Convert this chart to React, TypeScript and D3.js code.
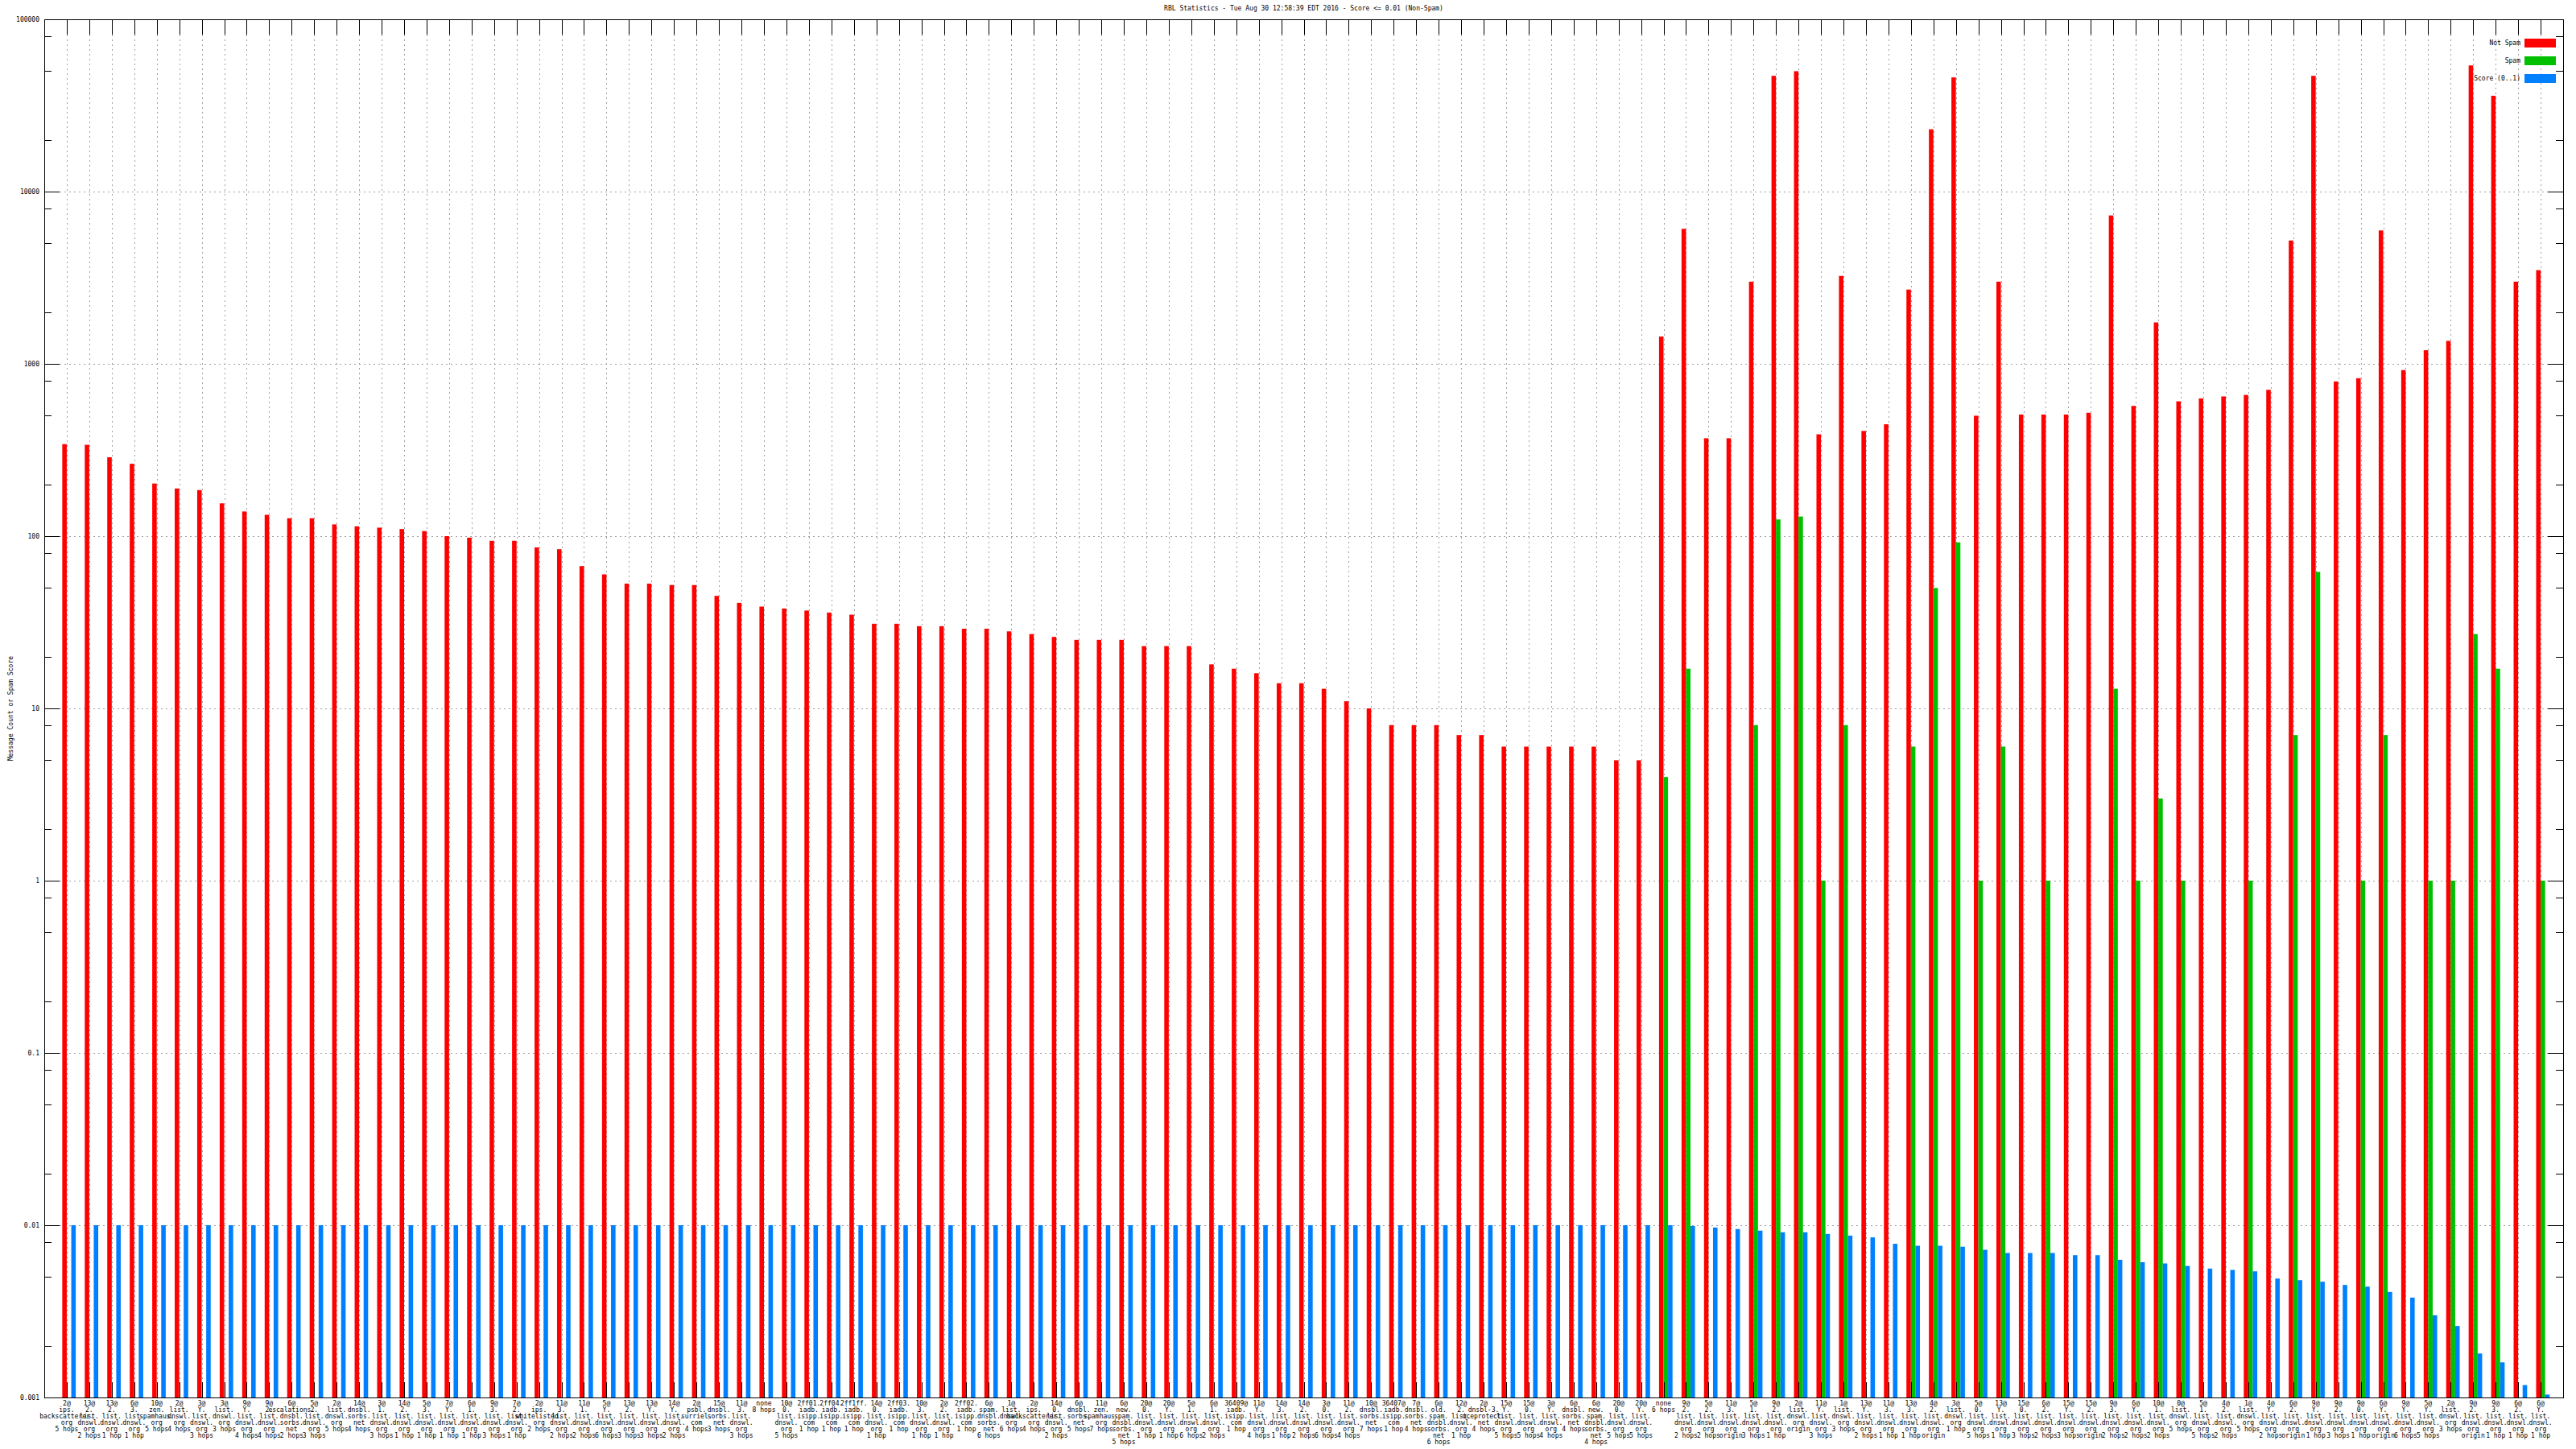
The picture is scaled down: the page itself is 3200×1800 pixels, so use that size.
import React from "react";
import * as d3 from "d3";

const title = "RBL Statistics - Tue Aug 30 12:58:39 EDT 2016 - Score <= 0.01 (Non-Spam)";
const yAxisLabel = "Message Count or Spam Score";
const seriesNames = ["Not Spam", "Spam", "Score (0..1)"];
const seriesColors = ["#ff0000", "#00c000", "#0080ff"];
const yTickValues = [0.001, 0.01, 0.1, 1, 10, 100, 1000, 10000, 100000];
const yTickLabels = ["0.001", "0.01", "0.1", "1", "10", "100", "1000", "10000", "100000"];

const categories: string[] = [
  "2@\nips.\nbackscatterer.\norg\n5 hops",
  "13@\n2.\nlist.\ndnswl.\norg\n2 hops",
  "13@\n2.\nlist.\ndnswl.\norg\n1 hop",
  "6@\n3.\nlist.\ndnswl.\norg\n1 hop",
  "10@\nzen.\nspamhaus.\norg\n5 hops",
  "2@\nlist.\ndnswl.\norg\n4 hops",
  "3@\nY.\nlist.\ndnswl.\norg\n3 hops",
  "3@\nlist.\ndnswl.\norg\n3 hops",
  "9@\nY.\nlist.\ndnswl.\norg\n4 hops",
  "9@\n2.\nlist.\ndnswl.\norg\n4 hops",
  "6@\nescalations.\ndnsbl.\nsorbs.\nnet\n2 hops",
  "5@\n2.\nlist.\ndnswl.\norg\n3 hops",
  "2@\nlist.\ndnswl.\norg\n5 hops",
  "14@\ndnsbl.\nsorbs.\nnet\n4 hops",
  "3@\n1.\nlist.\ndnswl.\norg\n3 hops",
  "14@\n2.\nlist.\ndnswl.\norg\n1 hop",
  "5@\n3.\nlist.\ndnswl.\norg\n1 hop",
  "7@\nY.\nlist.\ndnswl.\norg\n1 hop",
  "6@\n1.\nlist.\ndnswl.\norg\n1 hop",
  "9@\n3.\nlist.\ndnswl.\norg\n3 hops",
  "7@\n2.\nlist.\ndnswl.\norg\n1 hop",
  "2@\nips.\nwhitelisted.\norg\n2 hops",
  "11@\n3.\nlist.\ndnswl.\norg\n2 hops",
  "11@\n1.\nlist.\ndnswl.\norg\n2 hops",
  "5@\nY.\nlist.\ndnswl.\norg\n6 hops",
  "13@\n2.\nlist.\ndnswl.\norg\n3 hops",
  "13@\nY.\nlist.\ndnswl.\norg\n3 hops",
  "14@\nY.\nlist.\ndnswl.\norg\n2 hops",
  "2@\npsbl.\nsurriel.\ncom\n4 hops",
  "15@\ndnsbl.\nsorbs.\nnet\n3 hops",
  "11@\n3.\nlist.\ndnswl.\norg\n3 hops",
  "none\n8 hops",
  "10@\n0.\nlist.\ndnswl.\norg\n5 hops",
  "2ff01.\niadb.\nisipp.\ncom\n1 hop",
  "2ff04.\niadb.\nisipp.\ncom\n1 hop",
  "2ff1ff.\niadb.\nisipp.\ncom\n1 hop",
  "14@\n0.\nlist.\ndnswl.\norg\n1 hop",
  "2ff03.\niadb.\nisipp.\ncom\n1 hop",
  "10@\n3.\nlist.\ndnswl.\norg\n1 hop",
  "2@\n2.\nlist.\ndnswl.\norg\n1 hop",
  "2ff02.\niadb.\nisipp.\ncom\n1 hop",
  "6@\nspam.\ndnsbl.\nsorbs.\nnet\n6 hops",
  "1@\nlist.\ndnswl.\norg\n6 hops",
  "2@\nips.\nbackscatterer.\norg\n4 hops",
  "14@\n0.\nlist.\ndnswl.\norg\n2 hops",
  "6@\ndnsbl.\nsorbs.\nnet\n5 hops",
  "11@\nzen.\nspamhaus.\norg\n7 hops",
  "6@\nnew.\nspam.\ndnsbl.\nsorbs.\nnet\n5 hops",
  "20@\n0.\nlist.\ndnswl.\norg\n1 hop",
  "20@\nY.\nlist.\ndnswl.\norg\n1 hop",
  "5@\n1.\nlist.\ndnswl.\norg\n6 hops",
  "6@\n1.\nlist.\ndnswl.\norg\n2 hops",
  "36409@\niadb.\nisipp.\ncom\n1 hop",
  "11@\nY.\nlist.\ndnswl.\norg\n4 hops",
  "14@\n3.\nlist.\ndnswl.\norg\n1 hop",
  "14@\n2.\nlist.\ndnswl.\norg\n2 hops",
  "3@\n0.\nlist.\ndnswl.\norg\n6 hops",
  "11@\n2.\nlist.\ndnswl.\norg\n4 hops",
  "10@\ndnsbl.\nsorbs.\nnet\n7 hops",
  "36407@\niadb.\nisipp.\ncom\n1 hop",
  "7@\ndnsbl.\nsorbs.\nnet\n4 hops",
  "6@\nold.\nspam.\ndnsbl.\nsorbs.\nnet\n6 hops",
  "12@\n2.\nlist.\ndnswl.\norg\n1 hop",
  "2@\ndnsbl-3.\nuceprotect.\nnet\n4 hops",
  "15@\nY.\nlist.\ndnswl.\norg\n5 hops",
  "15@\n0.\nlist.\ndnswl.\norg\n5 hops",
  "3@\nY.\nlist.\ndnswl.\norg\n4 hops",
  "6@\ndnsbl.\nsorbs.\nnet\n4 hops",
  "6@\nnew.\nspam.\ndnsbl.\nsorbs.\nnet\n4 hops",
  "20@\n0.\nlist.\ndnswl.\norg\n5 hops",
  "20@\nY.\nlist.\ndnswl.\norg\n5 hops",
  "none\n6 hops",
  "9@\n2.\nlist.\ndnswl.\norg\n2 hops",
  "5@\n2.\nlist.\ndnswl.\norg\n2 hops",
  "11@\n3.\nlist.\ndnswl.\norg\norigin",
  "5@\n1.\nlist.\ndnswl.\norg\n3 hops",
  "9@\n2.\nlist.\ndnswl.\norg\n1 hop",
  "2@\nlist.\ndnswl.\norg\norigin",
  "11@\nY.\nlist.\ndnswl.\norg\n3 hops",
  "1@\nlist.\ndnswl.\norg\n3 hops",
  "13@\nY.\nlist.\ndnswl.\norg\n2 hops",
  "11@\n3.\nlist.\ndnswl.\norg\n1 hop",
  "13@\n3.\nlist.\ndnswl.\norg\n1 hop",
  "4@\n2.\nlist.\ndnswl.\norg\norigin",
  "3@\nlist.\ndnswl.\norg\n1 hop",
  "5@\n0.\nlist.\ndnswl.\norg\n5 hops",
  "13@\nY.\nlist.\ndnswl.\norg\n1 hop",
  "15@\n0.\nlist.\ndnswl.\norg\n3 hops",
  "6@\n2.\nlist.\ndnswl.\norg\n2 hops",
  "15@\nY.\nlist.\ndnswl.\norg\n3 hops",
  "15@\n2.\nlist.\ndnswl.\norg\norigin",
  "9@\n3.\nlist.\ndnswl.\norg\n2 hops",
  "6@\nY.\nlist.\ndnswl.\norg\n2 hops",
  "10@\n1.\nlist.\ndnswl.\norg\n2 hops",
  "0@\nlist.\ndnswl.\norg\n5 hops",
  "5@\n1.\nlist.\ndnswl.\norg\n5 hops",
  "4@\n2.\nlist.\ndnswl.\norg\n2 hops",
  "1@\nlist.\ndnswl.\norg\n5 hops",
  "4@\nY.\nlist.\ndnswl.\norg\n2 hops",
  "6@\n2.\nlist.\ndnswl.\norg\norigin",
  "9@\nY.\nlist.\ndnswl.\norg\n1 hop",
  "9@\n2.\nlist.\ndnswl.\norg\n3 hops",
  "9@\n0.\nlist.\ndnswl.\norg\n1 hop",
  "6@\nY.\nlist.\ndnswl.\norg\norigin",
  "9@\nY.\nlist.\ndnswl.\norg\n6 hops",
  "5@\nY.\nlist.\ndnswl.\norg\n5 hops",
  "2@\nlist.\ndnswl.\norg\n3 hops",
  "9@\n2.\nlist.\ndnswl.\norg\norigin",
  "9@\n3.\nlist.\ndnswl.\norg\n1 hop",
  "6@\n2.\nlist.\ndnswl.\norg\n1 hop",
  "6@\nY.\nlist.\ndnswl.\norg\n1 hop",
];

const notSpam: number[] = [
  342, 339, 287, 263, 202, 189, 185, 155, 139, 133,
  127, 127, 117, 114, 112, 110, 107, 100, 98, 94,
  94, 86, 84, 67, 60, 53, 53, 52, 52, 45,
  41, 39, 38, 37, 36, 35, 31, 31, 30, 30,
  29, 29, 28, 27, 26, 25, 25, 25, 23, 23,
  23, 18, 17, 16, 14, 14, 13, 11, 10, 8,
  8, 8, 7, 7, 6, 6, 6, 6, 6, 5,
  5, 1440, 6080, 370, 370, 3000, 47000, 50000, 390, 3240,
  408, 446, 2700, 23000, 46000, 500, 3000, 508, 508, 508,
  520, 7270, 570, 1740, 606, 630, 647, 660, 707, 5200,
  47000, 790, 825, 5950, 920, 1200, 1360, 54000, 36000, 3000,
  3500,
];

const spam: (number | null)[] = [
  null, null, null, null, null, null, null, null, null, null,
  null, null, null, null, null, null, null, null, null, null,
  null, null, null, null, null, null, null, null, null, null,
  null, null, null, null, null, null, null, null, null, null,
  null, null, null, null, null, null, null, null, null, null,
  null, null, null, null, null, null, null, null, null, null,
  null, null, null, null, null, null, null, null, null, null,
  null, 4, 17, null, null, 8, 125, 130, 1, 8,
  null, null, 6, 50, 92, 1, 6, null, 1, null,
  null, 13, 1, 3, 1, null, null, 1, null, 7,
  62, null, 1, 7, null, 1, 1, 27, 17, null,
  1,
];

const score: number[] = [
  0.01, 0.01, 0.01, 0.01, 0.01, 0.01, 0.01, 0.01, 0.01, 0.01,
  0.01, 0.01, 0.01, 0.01, 0.01, 0.01, 0.01, 0.01, 0.01, 0.01,
  0.01, 0.01, 0.01, 0.01, 0.01, 0.01, 0.01, 0.01, 0.01, 0.01,
  0.01, 0.01, 0.01, 0.01, 0.01, 0.01, 0.01, 0.01, 0.01, 0.01,
  0.01, 0.01, 0.01, 0.01, 0.01, 0.01, 0.01, 0.01, 0.01, 0.01,
  0.01, 0.01, 0.01, 0.01, 0.01, 0.01, 0.01, 0.01, 0.01, 0.01,
  0.01, 0.01, 0.01, 0.01, 0.01, 0.01, 0.01, 0.01, 0.01, 0.01,
  0.01, 0.01, 0.0099, 0.0097, 0.0095, 0.0093, 0.0091, 0.0091, 0.0089, 0.0087,
  0.0085, 0.0078, 0.0076, 0.0076, 0.0075, 0.0072, 0.0069, 0.0069, 0.0069, 0.0067,
  0.0067, 0.0063, 0.0061, 0.006, 0.0058, 0.0056, 0.0055, 0.0054, 0.0049, 0.0048,
  0.0047, 0.0045, 0.0044, 0.0041, 0.0038, 0.003, 0.0026, 0.0018, 0.0016, 0.00118,
  0.00104,
];

const FONT = "'DejaVu Sans Mono', monospace";

export default function App() {
  const W = 3200;
  const H = 1800;
  const left = 55, right = 3184, top = 24, bottom = 1736;
  const n = categories.length;
  const x = d3.scaleLinear().domain([-1, n]).range([left, right]);
  const y = d3.scaleLog().domain([0.001, 100000]).range([bottom, top]);
  const unit = x(1) - x(0);
  const bw = 0.2 * unit;
  const majorLen = 19, minorLen = 9;

  const minorTicks: number[] = [];
  for (let e = -3; e < 5; e++) {
    const d = Math.pow(10, e);
    [2, 5, 8].forEach((m) => minorTicks.push(m * d));
  }
  const idx = d3.range(n);

  const series = [notSpam, spam, score];
  const offsets = [-0.2, 0, 0.2];

  return (
    <svg width={W} height={H} style={{ position: "absolute", left: 0, top: 0, background: "#fff" }}
      fontFamily={FONT} fontSize={8}>
      <rect x={0} y={0} width={W} height={H} fill="#fff" />
      {yTickValues.slice(1, -1).map((v, k) => (
        <line key={"gy" + k} x1={left + majorLen} x2={right - majorLen} y1={Math.round(y(v)) + 0.5} y2={Math.round(y(v)) + 0.5}
          stroke="#a0a0a0" strokeWidth={1} strokeDasharray="2,4" />
      ))}
      {idx.map((i) => (
        <line key={"gx" + i} x1={Math.round(x(i)) + 0.5} x2={Math.round(x(i)) + 0.5} y1={top + majorLen} y2={bottom - majorLen}
          stroke="#a0a0a0" strokeWidth={1} strokeDasharray="2,4" />
      ))}
      {series.map((vals, s) =>
        idx.map((i) => {
          const v = vals[i];
          if (v == null) return null;
          const x0 = x(i + offsets[s]);
          const yt = y(v);
          return (
            <rect key={"b" + s + "_" + i} x={x0} y={yt} width={bw} height={bottom - yt} fill={seriesColors[s]} />
          );
        })
      )}
      {yTickValues.map((v, k) => (
        <g key={"ty" + k}>
          <line x1={left} x2={left + majorLen} y1={Math.round(y(v)) + 0.5} y2={Math.round(y(v)) + 0.5} stroke="#000" />
          <line x1={right - majorLen} x2={right} y1={Math.round(y(v)) + 0.5} y2={Math.round(y(v)) + 0.5} stroke="#000" />
          <text x={49} y={y(v)} dy="0.33em" textAnchor="end" fill="#000">{yTickLabels[k]}</text>
        </g>
      ))}
      {minorTicks.map((v, k) => (
        <g key={"tm" + k}>
          <line x1={left} x2={left + minorLen} y1={Math.round(y(v)) + 0.5} y2={Math.round(y(v)) + 0.5} stroke="#000" />
          <line x1={right - minorLen} x2={right} y1={Math.round(y(v)) + 0.5} y2={Math.round(y(v)) + 0.5} stroke="#000" />
        </g>
      ))}
      {idx.map((i) => (
        <g key={"tx" + i}>
          <line x1={Math.round(x(i)) + 0.5} x2={Math.round(x(i)) + 0.5} y1={top} y2={top + majorLen} stroke="#000" />
          <line x1={Math.round(x(i)) + 0.5} x2={Math.round(x(i)) + 0.5} y1={bottom - majorLen} y2={bottom} stroke="#000" />
        </g>
      ))}
      <rect x={left + 0.5} y={top + 0.5} width={right - left} height={bottom - top} fill="none" stroke="#000" strokeWidth={1} />
      {idx.map((i) => (
        <text key={"lx" + i} x={x(i)} y={1743} textAnchor="middle" fill="#000">
          {categories[i].split("\n").map((ln, r) => (
            <tspan key={r} x={x(i)} y={1743 + r * 8 + 3}>{ln}</tspan>
          ))}
        </text>
      ))}
      <text x={(left + right) / 2} y={13} textAnchor="middle" fill="#000">{title}</text>
      <text transform={`translate(13,${(top + bottom) / 2}) rotate(-90)`} textAnchor="middle" dy="0.33em" fill="#000">{yAxisLabel}</text>
      {seriesNames.map((nm, s) => (
        <g key={"lg" + s}>
          <text x={3131} y={53 + s * 22} dy="0.33em" textAnchor="end" fill="#000">{nm}</text>
          <rect x={3136} y={48 + s * 22} width={39} height={11} fill={seriesColors[s]} />
        </g>
      ))}
    </svg>
  );
}
